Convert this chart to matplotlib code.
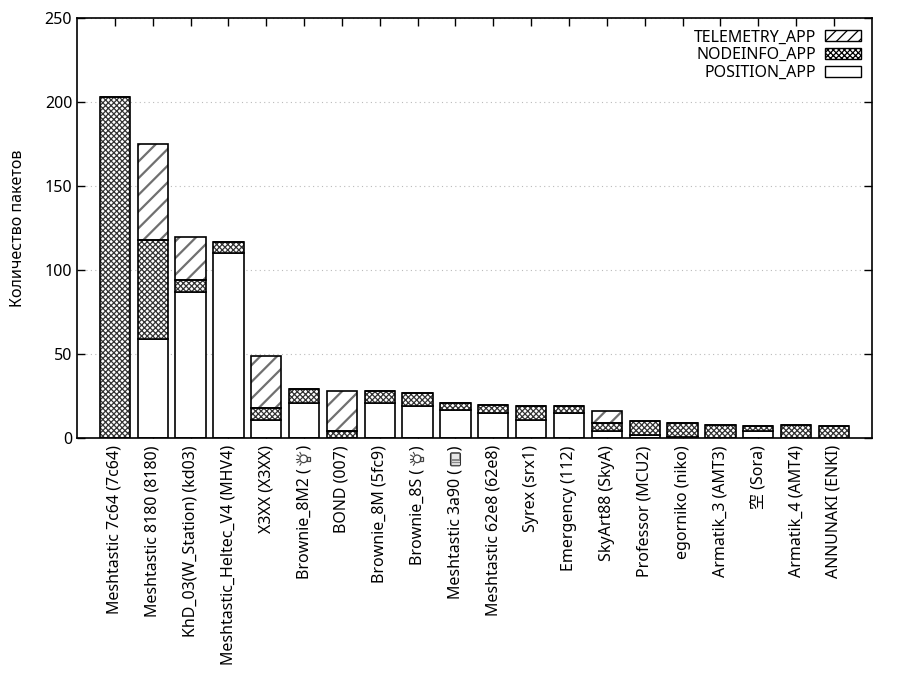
import numpy as np
import matplotlib
matplotlib.use("Agg")
import matplotlib.pyplot as plt
from matplotlib.patches import Patch, Circle, Rectangle, FancyBboxPatch
from matplotlib.lines import Line2D
from matplotlib.transforms import IdentityTransform

plt.rcParams['font.family'] = ['Noto Sans', 'Noto Sans CJK JP', 'DejaVu Sans']

# данные
nodes = [
    "Meshtastic 7c64 (7c64)", "Meshtastic 8180 (8180)", "KhD_03(W_Station) (kd03)",
    "Meshtastic_Heltec_V4 (MHV4)", "X3XX (X3XX)", "Brownie_8M2 (💡)", "BOND (007)",
    "Brownie_8M (5fc9)", "Brownie_8S (💡)", "Meshtastic 3a90 (📟)",
    "Meshtastic 62e8 (62e8)", "Syrex (srx1)", "Emergency (112)", "SkyArt88 (SkyA)",
    "Professor (MCU2)", "egorniko (niko)", "Armatik_3 (AMT3)", "空 (Sora)",
    "Armatik_4 (AMT4)", "ANNUNAKI (ENKI)",
]
position_app = [0, 59, 87, 110, 11, 21, 0, 21, 19, 17, 15, 11, 15, 4, 2, 1, 0, 4, 0, 0]
nodeinfo_app = [203, 59, 7, 7, 7, 8, 4, 7, 8, 4, 5, 8, 4, 5, 8, 8, 8, 3, 8, 7]
telemetry_app = [0, 57, 26, 0, 31, 0, 24, 0, 0, 0, 0, 0, 0, 7, 0, 0, 0, 0, 0, 0]

ICONS = ['💡', '📟']  # в шрифтах нет -- рисуем фигурами
FS = 11.5

x = np.arange(len(nodes))
pos = np.array(position_app)
info = np.array(nodeinfo_app)
tele = np.array(telemetry_app)
w = 0.8

fig = plt.figure(figsize=(9, 7), dpi=100)
ax = fig.add_axes([0.0856, 0.374, 0.8830, 0.6])

# штриховка отдельно, контур отдельно
ax.bar(x, pos, w, color='white', edgecolor='black', linewidth=1.2, zorder=2)
plt.rcParams['hatch.linewidth'] = 0.9
ax.bar(x, info, w, bottom=pos, color='white', edgecolor='#333333',
       hatch='xxxxxx', linewidth=0, zorder=2)
ax.bar(x, info, w, bottom=pos, fill=False, edgecolor='black', linewidth=1.2, zorder=3)
plt.rcParams['hatch.linewidth'] = 1.6
ax.bar(x, tele, w, bottom=pos + info, color='white', edgecolor='#707070',
       hatch='//', linewidth=0, zorder=2)
ax.bar(x, tele, w, bottom=pos + info, fill=False, edgecolor='black',
       linewidth=1.2, zorder=3)

labels = []
for n in nodes:
    for ic in ICONS:
        n = n.replace(ic, '\u2003\u2009')
    labels.append(n)

ax.set_xlim(-1, 20)
ax.set_ylim(0, 250)
ax.set_yticks(np.arange(0, 251, 50))
ax.set_xticks(x)
ax.set_xticklabels(labels, rotation=90, fontsize=FS)
ax.tick_params(axis='both', direction='in', length=6, width=1,
               top=True, right=True, labelsize=FS)
ax.tick_params(axis='x', pad=5)
for s in ax.spines.values():
    s.set_linewidth(1.2)
ax.yaxis.grid(True, linestyle=(0, (1, 3)), color='#bbbbbb', linewidth=0.8)
ax.set_axisbelow(True)
ax.set_ylabel("Количество пакетов", fontsize=FS, labelpad=13)

plt.rcParams['hatch.linewidth'] = 0.9
handles = [
    Patch(facecolor='white', edgecolor='black', hatch='///', label='TELEMETRY_APP'),
    Patch(facecolor='white', edgecolor='black', hatch='xxxxxx', label='NODEINFO_APP'),
    Patch(facecolor='white', edgecolor='black', label='POSITION_APP'),
]
leg = ax.legend(handles=handles, loc='upper right', frameon=False,
                markerfirst=False, fontsize=FS, handlelength=2.2,
                handleheight=0.65, labelspacing=0.12, borderaxespad=0.3,
                handletextpad=0.6)

# иконки эмодзи поверх подписей
fig.canvas.draw()
renderer = fig.canvas.get_renderer()
tmp = fig.text(0, 0, ")", fontsize=FS)
w_par = tmp.get_window_extent(renderer).width
tmp.set_text("\u2003\u2009")
w_sp = tmp.get_window_extent(renderer).width
tmp.remove()

T = IdentityTransform()


def draw_bulb(cx, cy):
    c = '#444444'
    fig.add_artist(Circle((cx - 0.5, cy + 0.5), 3.8, fill=False, ec=c, lw=0.9, transform=T))
    fig.add_artist(Rectangle((cx + 2.8, cy - 1.8), 3.0, 4.6, fill=False, ec=c, lw=0.9,
                             transform=T))
    for a in np.radians([120, 150, 180, 210, 240]):
        r0, r1 = 5.2, 7.4
        fig.add_artist(Line2D([cx - 0.5 + r0 * np.cos(a), cx - 0.5 + r1 * np.cos(a)],
                              [cy + 0.5 + r0 * np.sin(a), cy + 0.5 + r1 * np.sin(a)],
                              color=c, lw=0.8, transform=T))


def draw_pager(cx, cy):
    fig.add_artist(FancyBboxPatch((cx - 5, cy - 6.5), 10, 13,
                                  boxstyle="round,pad=0,rounding_size=1.5",
                                  fc='#8a8a8a', ec='#333333', lw=0.8, transform=T))
    fig.add_artist(Rectangle((cx - 3.2, cy + 0.8), 6.4, 4.2, fc='#e6e6e6', ec='none',
                             transform=T))
    for k in range(3):
        fig.add_artist(Line2D([cx - 3.2, cx + 3.2], [cy - 1.5 - 1.8 * k] * 2,
                              color='#dddddd', lw=0.7, transform=T))


for tl, name in zip(ax.get_xticklabels(), nodes):
    bb = tl.get_window_extent(renderer)
    cx = (bb.x0 + bb.x1) / 2
    cy = bb.y1 - w_par - w_sp / 2
    if '💡' in name:
        draw_bulb(cx, cy)
    elif '📟' in name:
        draw_pager(cx, cy)

fig.savefig("out.png", dpi=100)
